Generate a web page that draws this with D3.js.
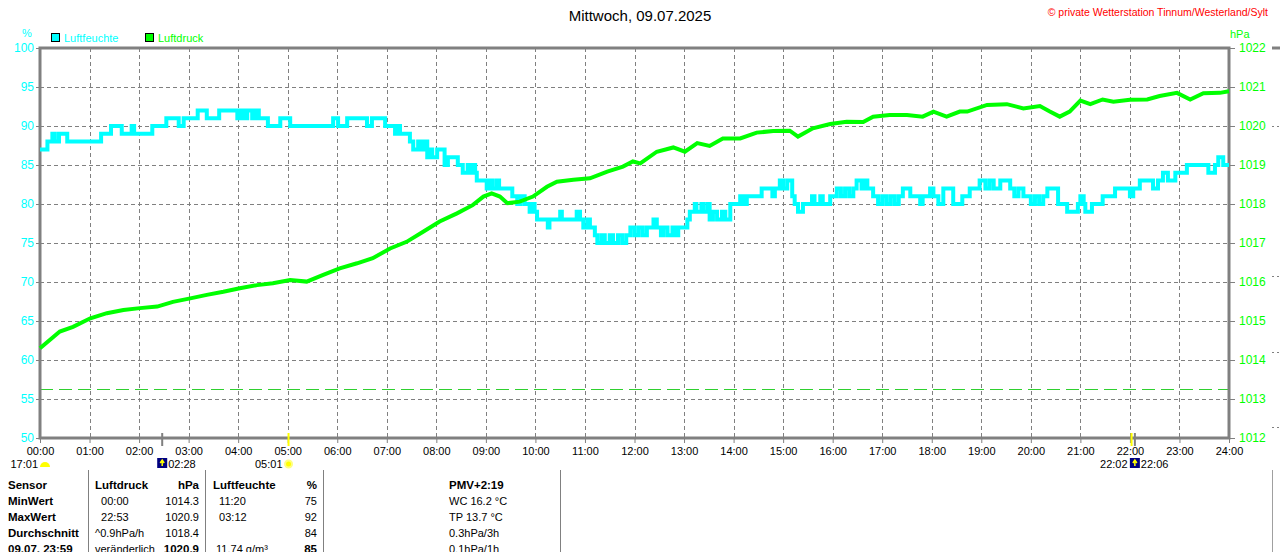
<!DOCTYPE html>
<html>
<head>
<meta charset="utf-8">
<script src="https://cdn.jsdelivr.net/npm/d3@7"></script>
<style>
  body { margin: 0; background: #fff; }
  text { font-family: "Liberation Sans", Arial, sans-serif; }
</style>
</head>
<body>
<script>
// Size of the picture and the plot box
var w = 1280;
var h = 552;
var plotLeft = 40, plotRight = 1229, plotTop = 48, plotBottom = 438;

// x axis labels, one per hour
var hourLabels = ["00:00","01:00","02:00","03:00","04:00","05:00","06:00","07:00","08:00",
  "09:00","10:00","11:00","12:00","13:00","14:00","15:00","16:00","17:00","18:00",
  "19:00","20:00","21:00","22:00","23:00","24:00"];
var humTicks = [50, 55, 60, 65, 70, 75, 80, 85, 90, 95, 100];
var pressTicks = [1012, 1013, 1014, 1015, 1016, 1017, 1018, 1019, 1020, 1021, 1022];

// Luftfeuchte in %, [minute of day, value], step changes
var humidity = [[0,87],[9,88],[15,89],[18,88],[23,89],[33,88],[74,89],[86,90],[99,89],[111,90],
  [114,89],[136,90],[153,91],[168,90],[174,91],[191,92],[202,91],[217,92],[239,91],[243,92],
  [247,91],[251,92],[257,91],[261,92],[265,91],[276,90],[291,91],[303,90],[355,91],[361,90],
  [372,91],[396,90],[402,91],[418,90],[430,89],[433,90],[436,89],[448,88],[452,87],[458,88],
  [461,87],[465,88],[469,86],[472,87],[475,86],[481,87],[490,85],[494,86],[506,85],[512,84],
  [518,85],[521,84],[524,85],[527,84],[529,83],[541,82],[545,83],[548,82],[553,83],[556,82],
  [572,81],[578,80],[582,81],[587,80],[593,79],[596,80],[599,79],[602,78],[615,77],[617,78],
  [630,79],[632,78],[650,79],[654,78],[658,77],[663,78],[666,77],[672,76],[675,75],[680,76],
  [684,75],[690,76],[694,75],[700,76],[705,75],[710,76],[715,77],[720,76],[725,77],[730,76],
  [735,77],[743,78],[747,77],[752,76],[755,77],[760,76],[766,77],[770,76],[773,77],[784,78],
  [787,79],[793,80],[795,79],[801,80],[803,79],[808,80],[811,78],[815,79],[820,78],[826,79],
  [830,78],[836,80],[848,81],[852,80],[856,81],[874,82],[887,81],[890,82],[896,83],[900,82],
  [905,83],[911,81],[914,80],[918,79],[924,80],[935,81],[938,80],[945,81],[948,80],[957,81],
  [965,82],[970,81],[975,82],[980,81],[985,82],[989,83],[995,82],[998,83],[1002,82],[1009,81],
  [1015,80],[1020,81],[1025,80],[1030,81],[1035,80],[1040,81],[1045,82],[1054,81],[1066,80],
  [1069,81],[1078,82],[1082,81],[1088,80],[1094,82],[1106,80],[1117,81],[1126,82],[1138,83],
  [1145,82],[1150,83],[1155,82],[1163,83],[1175,82],[1180,81],[1185,82],[1191,81],[1200,80],
  [1205,81],[1210,80],[1215,81],[1220,82],[1233,80],[1244,79],[1257,80],[1260,81],[1264,80],
  [1266,79],[1274,80],[1287,81],[1302,82],[1320,81],[1324,82],[1332,83],[1348,82],[1354,83],
  [1360,84],[1366,83],[1375,84],[1389,85],[1415,84],[1423,85],[1427,86],[1433,85],[1440,85]];

// Luftdruck in hPa, [minute of day, value]
var pressure = [[0,1014.30],[24,1014.73],[40,1014.85],[61,1015.07],[81,1015.20],[101,1015.28],
  [121,1015.33],[142,1015.37],[161,1015.49],[182,1015.58],[202,1015.67],[222,1015.75],
  [242,1015.84],[263,1015.92],[282,1015.97],[303,1016.05],[323,1016.01],[343,1016.18],
  [363,1016.35],[384,1016.48],[403,1016.61],[424,1016.86],[444,1017.03],[464,1017.29],
  [484,1017.55],[505,1017.76],[524,1017.97],[537,1018.19],[547,1018.27],[557,1018.19],
  [566,1018.02],[581,1018.06],[597,1018.19],[614,1018.44],[626,1018.57],[646,1018.62],
  [666,1018.66],[687,1018.83],[706,1018.96],[718,1019.09],[727,1019.04],[747,1019.34],
  [767,1019.45],[781,1019.34],[796,1019.56],[811,1019.49],[827,1019.68],[848,1019.68],
  [868,1019.83],[888,1019.87],[908,1019.88],[918,1019.73],[936,1019.94],[957,1020.05],
  [977,1020.11],[997,1020.10],[1009,1020.24],[1029,1020.28],[1050,1020.28],[1069,1020.24],
  [1082,1020.37],[1098,1020.24],[1114,1020.37],[1123,1020.37],[1147,1020.54],[1171,1020.56],
  [1191,1020.45],[1211,1020.51],[1223,1020.37],[1235,1020.24],[1247,1020.37],[1260,1020.65],
  [1272,1020.56],[1287,1020.68],[1300,1020.62],[1320,1020.67],[1341,1020.68],[1356,1020.77],
  [1377,1020.85],[1393,1020.68],[1409,1020.84],[1429,1020.85],[1440,1020.89]];

// Sun and moon times (minute of day)
var sunEvents = [301, 1322];     // 05:01, 22:02
var moonEvents = [148, 1326];    // 02:28, 22:06

// Table below the chart
var tableRows = [
  ["Sensor", "Luftdruck", "hPa", "Luftfeuchte", "%", "PMV+2:19"],
  ["MinWert", "  00:00", "1014.3", "  11:20", "75", "WC 16.2 °C"],
  ["MaxWert", "  22:53", "1020.9", "  03:12", "92", "TP 13.7 °C"],
  ["Durchschnitt", "^0.9hPa/h", "1018.4", "", "84", "0.3hPa/3h"],
  ["09.07. 23:59", "veränderlich", "1020.9", " 11.74 g/m³", "85", "0.1hPa/1h"]
];

var grey = "#808080", cyan = "#00ffff", green = "#00ff00";

var svg = d3.select("body")
            .append("svg")
            .attr("width", w)
            .attr("height", h);

var x = d3.scaleLinear().domain([0, 1440]).range([plotLeft, plotRight]);
var yH = d3.scaleLinear().domain([50, 100]).range([plotBottom, plotTop]);
var yP = d3.scaleLinear().domain([1012, 1022]).range([plotBottom, plotTop]);

// grid
svg.append("g")
   .selectAll("line")
   .data(humTicks.slice(1, -1))
   .enter()
   .append("line")
   .attr("x1", plotLeft).attr("x2", plotRight)
   .attr("y1", function(d) { return Math.round(yH(d)) + 0.5; })
   .attr("y2", function(d) { return Math.round(yH(d)) + 0.5; })
   .attr("stroke", grey)
   .attr("stroke-dasharray", "4,3");

svg.append("g")
   .selectAll("line")
   .data(d3.range(1, 24))
   .enter()
   .append("line")
   .attr("x1", function(d) { return Math.round(x(d * 60)) + 0.5; })
   .attr("x2", function(d) { return Math.round(x(d * 60)) + 0.5; })
   .attr("y1", plotTop).attr("y2", plotBottom)
   .attr("stroke", grey)
   .attr("stroke-dasharray", "4,3");

// 1013.25 hPa reference line
svg.append("line")
   .attr("x1", plotLeft).attr("x2", plotRight)
   .attr("y1", Math.round(yP(1013.25)) + 0.5)
   .attr("y2", Math.round(yP(1013.25)) + 0.5)
   .attr("stroke", "#2fd02f")
   .attr("stroke-dasharray", "13,6");

// frame
svg.append("rect")
   .attr("x", plotLeft).attr("y", plotTop)
   .attr("width", plotRight - plotLeft).attr("height", plotBottom - plotTop)
   .attr("fill", "none")
   .attr("stroke", grey)
   .attr("stroke-width", 3);

// axes
var leftAxis = d3.axisLeft(yH).tickValues(humTicks).tickSize(4).tickPadding(2);
var gl = svg.append("g").attr("transform", "translate(" + plotLeft + ",0)").call(leftAxis);
gl.select(".domain").remove();
gl.selectAll("line").attr("stroke", grey);
gl.selectAll("text").attr("fill", cyan).attr("font-size", "12px")
  .attr("font-family", "Liberation Sans, Arial, sans-serif");

var rightAxis = d3.axisRight(yP).tickValues(pressTicks).tickSize(6).tickPadding(4)
                  .tickFormat(d3.format("d"));
var gr = svg.append("g").attr("transform", "translate(" + plotRight + ",0)").call(rightAxis);
gr.select(".domain").remove();
gr.selectAll("line").attr("stroke", grey);
gr.selectAll("text").attr("fill", green).attr("font-size", "12px")
  .attr("font-family", "Liberation Sans, Arial, sans-serif");

var bottomAxis = d3.axisBottom(x).tickValues(d3.range(0, 1441, 60)).tickSize(5).tickPadding(4)
                   .tickFormat(function(d) { return hourLabels[d / 60]; });
var gb = svg.append("g").attr("transform", "translate(0," + plotBottom + ")").call(bottomAxis);
gb.select(".domain").remove();
gb.selectAll("line").attr("stroke", grey);
gb.selectAll("text").attr("fill", "black").attr("font-size", "11px")
  .attr("font-family", "Liberation Sans, Arial, sans-serif");

// data lines
var humLine = d3.line()
    .x(function(d) { return x(d[0]); })
    .y(function(d) { return yH(d[1]); })
    .curve(d3.curveStepAfter);
svg.append("path")
   .datum(humidity)
   .attr("d", humLine)
   .attr("fill", "none")
   .attr("stroke", cyan)
   .attr("stroke-width", 4);

var pressLine = d3.line()
    .x(function(d) { return x(d[0]); })
    .y(function(d) { return yP(d[1]); });
svg.append("path")
   .datum(pressure)
   .attr("d", pressLine)
   .attr("fill", "none")
   .attr("stroke", green)
   .attr("stroke-width", 4);

// axis titles and legend
svg.append("text").text("%").attr("x", 22).attr("y", 37)
   .attr("fill", cyan).attr("font-size", "11px");
svg.append("text").text("hPa").attr("x", 1230).attr("y", 38)
   .attr("fill", green).attr("font-size", "11px");

var legend = [["Luftfeuchte", cyan, 51], ["Luftdruck", green, 145]];
svg.selectAll(".leg")
   .data(legend)
   .enter()
   .append("rect")
   .attr("x", function(d) { return d[2] + 0.5; })
   .attr("y", 33.5)
   .attr("width", 8).attr("height", 8)
   .attr("fill", function(d) { return d[1]; })
   .attr("stroke", "black");
svg.selectAll(".legt")
   .data(legend)
   .enter()
   .append("text")
   .text(function(d) { return d[0]; })
   .attr("x", function(d) { return d[2] + 13; })
   .attr("y", 42)
   .attr("fill", function(d) { return d[1]; })
   .attr("font-size", "11px");

// title and copyright
svg.append("text").text("Mittwoch, 09.07.2025")
   .attr("x", 640).attr("y", 21)
   .attr("text-anchor", "middle")
   .attr("font-size", "15px");
svg.append("text").text("© private Wetterstation Tinnum/Westerland/Sylt")
   .attr("x", 1268).attr("y", 16)
   .attr("text-anchor", "end")
   .attr("fill", "red")
   .attr("font-size", "10.5px");

// sun and moon markers
svg.selectAll(".sunTick")
   .data(sunEvents)
   .enter()
   .append("rect")
   .attr("x", function(d) { return x(d) - 1; })
   .attr("y", 433).attr("width", 2).attr("height", 13)
   .attr("fill", "#ffff00");
svg.selectAll(".moonTick")
   .data(moonEvents)
   .enter()
   .append("rect")
   .attr("x", function(d) { return x(d) - 1; })
   .attr("y", 433).attr("width", 2).attr("height", 13)
   .attr("fill", grey);

// icons
svg.append("path").attr("d", "M40,467 a5,5 0 0 1 10,0 z").attr("fill", "#ffff00");
svg.append("circle").attr("cx", x(301)).attr("cy", 464).attr("r", 3.5).attr("fill", "#ffff00")
   .attr("stroke", "#ffff80").attr("stroke-width", 2);
moonEvents.forEach(function(d) {
  var mx = x(d) - 5;
  svg.append("rect").attr("x", mx).attr("y", 458).attr("width", 10).attr("height", 10).attr("fill", "#000080");
  svg.append("path").attr("d", "M" + (mx + 5) + ",466 l0,-5 m-2,2 l2,-3 l2,3")
     .attr("stroke", "#ffff00").attr("stroke-width", 1.5).attr("fill", "none");
});

var eventText = [["17:01", 38, "end"], ["02:28", x(148) + 6, "start"], ["05:01", x(301) - 6, "end"],
                 ["22:02", x(1322) - 4, "end"], ["22:06", x(1326) + 6, "start"]];
svg.selectAll(".evt")
   .data(eventText)
   .enter()
   .append("text")
   .text(function(d) { return d[0]; })
   .attr("x", function(d) { return d[1]; })
   .attr("y", 468)
   .attr("text-anchor", function(d) { return d[2]; })
   .attr("font-size", "11px");

// table
[88, 205, 323, 560].forEach(function(d) {
  svg.append("line").attr("x1", d + 0.5).attr("x2", d + 0.5).attr("y1", 470).attr("y2", h)
     .attr("stroke", grey);
});
svg.append("line").attr("x1", 1272.5).attr("x2", 1272.5).attr("y1", 470).attr("y2", h)
   .attr("stroke", "#a0a0a0");

var colX = [8, 95, 199, 213, 317, 449];
var colAnchor = ["start", "start", "end", "start", "end", "start"];
tableRows.forEach(function(row, r) {
  row.forEach(function(cell, c) {
    var bold = r === 0 || c === 0 || (r === 4 && (c === 2 || c === 4));
    svg.append("text")
       .text(cell)
       .attr("x", colX[c])
       .attr("y", 489 + r * 16)
       .attr("text-anchor", colAnchor[c])
       .attr("font-size", bold ? "11.5px" : "11px")
       .attr("font-weight", bold ? "bold" : "normal")
       .style("white-space", "pre");
  });
});

// edge of the next chart at the right border
svg.append("line").attr("x1", 1272).attr("x2", 1280).attr("y1", plotTop).attr("y2", plotTop)
   .attr("stroke", grey).attr("stroke-width", 3);
[126, 276, 352, 427].forEach(function(d) {
  svg.append("line").attr("x1", 1272).attr("x2", 1280).attr("y1", d + 0.5).attr("y2", d + 0.5)
     .attr("stroke", grey).attr("stroke-dasharray", "2,3");
});
</script>
</body>
</html>
